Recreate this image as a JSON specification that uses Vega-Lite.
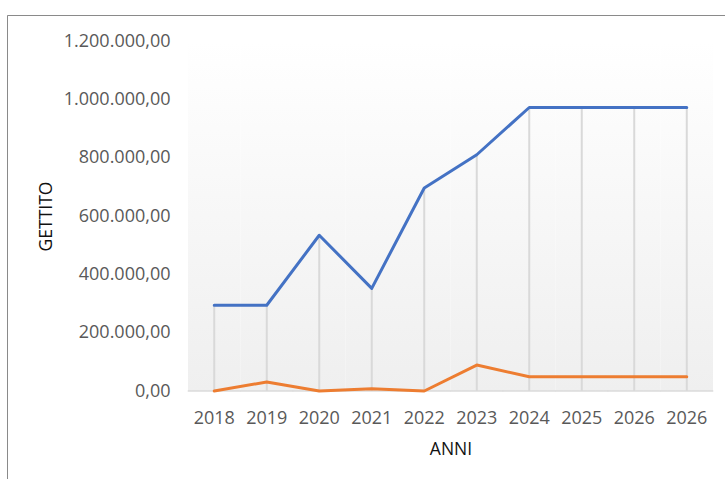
{
  "$schema": "https://vega.github.io/schema/vega-lite/v6.json",
  "width": 718,
  "height": 464,
  "autosize": {"type": "none"},
  "padding": {"left": 7, "top": 15, "right": 0, "bottom": 0},
  "background": "white",
  "data": {
    "values": [
      {"anno": "2018", "serie": "Serie 1", "valore": 294000},
      {"anno": "2019", "serie": "Serie 1", "valore": 294000},
      {"anno": "2020", "serie": "Serie 1", "valore": 534000},
      {"anno": "2021", "serie": "Serie 1", "valore": 352000},
      {"anno": "2022", "serie": "Serie 1", "valore": 696000},
      {"anno": "2023", "serie": "Serie 1", "valore": 810000},
      {"anno": "2024", "serie": "Serie 1", "valore": 972000},
      {"anno": "2025", "serie": "Serie 1", "valore": 972000},
      {"anno": "2026", "serie": "Serie 1", "valore": 972000},
      {"anno": "2026 ", "serie": "Serie 1", "valore": 972000},
      {"anno": "2018", "serie": "Serie 2", "valore": 0},
      {"anno": "2019", "serie": "Serie 2", "valore": 31000},
      {"anno": "2020", "serie": "Serie 2", "valore": 0},
      {"anno": "2021", "serie": "Serie 2", "valore": 8000},
      {"anno": "2022", "serie": "Serie 2", "valore": 0},
      {"anno": "2023", "serie": "Serie 2", "valore": 89000},
      {"anno": "2024", "serie": "Serie 2", "valore": 49000},
      {"anno": "2025", "serie": "Serie 2", "valore": 49000},
      {"anno": "2026", "serie": "Serie 2", "valore": 49000},
      {"anno": "2026 ", "serie": "Serie 2", "valore": 49000}
    ]
  },
  "layer": [
    {
      "transform": [{"filter": "datum.serie == 'Serie 1'"}],
      "mark": {
        "type": "rect",
        "color": {
          "gradient": "linear",
          "x1": 0, "y1": 0, "x2": 0, "y2": 1,
          "stops": [{"offset": 0, "color": "#ffffff"}, {"offset": 1, "color": "#efefef"}]
        }
      },
      "encoding": {
        "x": {
          "field": "anno",
          "type": "ordinal",
          "sort": null,
          "scale": {"type": "band", "paddingInner": 0, "paddingOuter": 0, "range": [181, 706]},
          "axis": {
            "title": "ANNI",
            "labelExpr": "trim(datum.label)",
            "labelAngle": 0,
            "ticks": false,
            "grid": false,
            "domain": false,
            "offset": -88,
            "labelPadding": 18,
            "titlePadding": 13
          }
        },
        "y": {
          "datum": 1200000,
          "type": "quantitative",
          "scale": {"domain": [0, 1200000], "nice": false, "zero": true, "range": [376, 26]},
          "axis": {
            "title": "GETTITO",
            "values": [0, 200000, 400000, 600000, 800000, 1000000, 1200000],
            "format": ",.2f",
            "ticks": false,
            "domain": false,
            "grid": false,
            "offset": -181,
            "labelPadding": 18,
            "titlePadding": 8
          }
        },
        "y2": {"datum": 0}
      }
    },
    {
      "transform": [{"filter": "datum.serie == 'Serie 1'"}],
      "mark": {"type": "tick", "orient": "horizontal", "size": 53, "thickness": 2, "color": "#d9d9d9"},
      "encoding": {
        "x": {"field": "anno", "type": "ordinal", "sort": null},
        "y": {"datum": 0, "type": "quantitative"}
      }
    },
    {
      "transform": [{"filter": "datum.serie == 'Serie 1'"}],
      "mark": {"type": "rule", "color": "#d9d9d9", "strokeWidth": 2},
      "encoding": {
        "x": {"field": "anno", "type": "ordinal", "sort": null, "bandPosition": 0.5},
        "y": {"field": "valore", "type": "quantitative"},
        "y2": {"datum": 0}
      }
    },
    {
      "mark": {"type": "line", "strokeWidth": 3, "strokeCap": "round", "strokeJoin": "round"},
      "encoding": {
        "x": {"field": "anno", "type": "ordinal", "sort": null, "bandPosition": 0.5},
        "y": {"field": "valore", "type": "quantitative"},
        "color": {
          "field": "serie",
          "type": "nominal",
          "scale": {"domain": ["Serie 1", "Serie 2"], "range": ["#4472c4", "#ed7d31"]},
          "legend": null
        }
      }
    }
  ],
  "config": {
    "locale": {"number": {"decimal": ",", "thousands": ".", "grouping": [3], "currency": ["", " €"]}},
    "font": "Open Sans",
    "view": {
      "fill": "white",
      "stroke": "#8a8a8a",
      "strokeWidth": 1,
      "strokeDash": [718, 1182, 464]
    },
    "axis": {
      "labelFont": "Open Sans",
      "labelFontSize": 18,
      "labelColor": "#595959",
      "titleFont": "Open Sans",
      "titleFontSize": 17.5,
      "titleFontWeight": "normal",
      "titleColor": "#111111"
    }
  }
}
